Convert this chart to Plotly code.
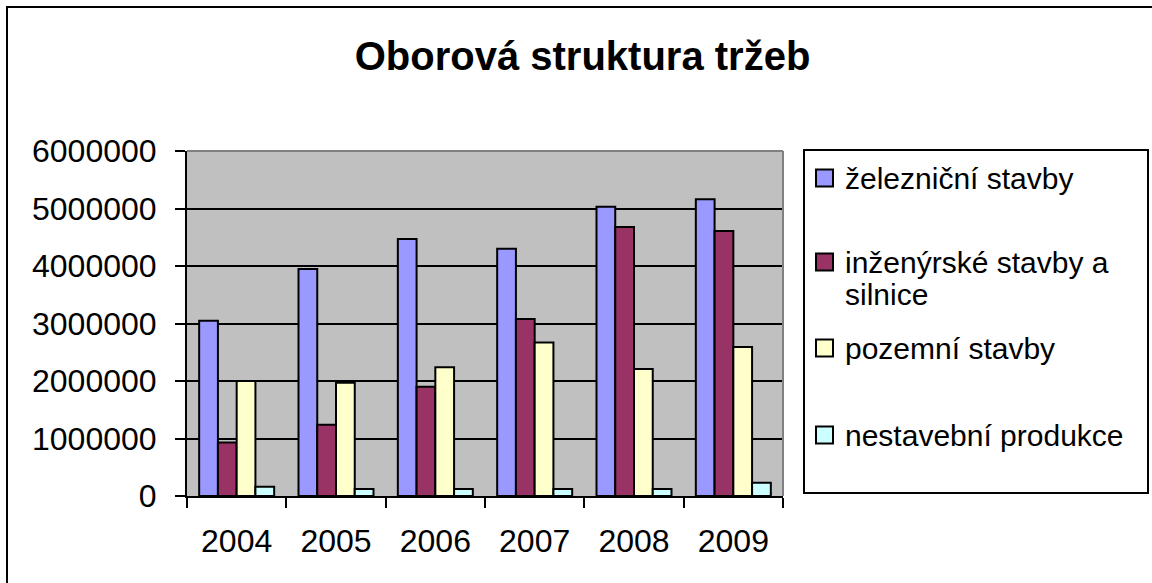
import plotly.graph_objects as go

years = ["2004", "2005", "2006", "2007", "2008", "2009"]
series_names = ["železniční stavby", "inženýrské stavby a silnice", "pozemní stavby", "nestavební produkce"]
zeleznicni = [3050000, 3950000, 4470000, 4300000, 5030000, 5160000]
inzenyrske = [930000, 1240000, 1900000, 3080000, 4680000, 4610000]
pozemni = [2000000, 1970000, 2240000, 2670000, 2210000, 2590000]
nestavebni = [160000, 120000, 120000, 120000, 120000, 230000]
y_ticks = [0, 1000000, 2000000, 3000000, 4000000, 5000000, 6000000]

colors = ["#9999FF", "#993366", "#FFFFCC", "#CCFFFF"]
values = [zeleznicni, inzenyrske, pozemni, nestavebni]
FONT = "Liberation Sans, Arial, sans-serif"

W, H = 1152, 583
L, R, T, B = 187, 783, 151, 496

fig = go.Figure()
for name, vals, col in zip(series_names, values, colors):
    fig.add_trace(go.Bar(x=years, y=vals, name=name, marker=dict(color=col, line=dict(color="black", width=2)),
                         showlegend=False))

def px_x(x):
    return (x - L) / (R - L)

def px_y(y):
    return (B - y) / (B - T)

shapes = []
# outer chart frame (extends beyond the picture at right/bottom)
shapes.append(dict(type="rect", xref="paper", yref="paper", x0=px_x(7), x1=px_x(1170), y0=px_y(600), y1=px_y(7),
                   line=dict(color="black", width=2), layer="above"))
# plot-area top/right gray border
shapes.append(dict(type="line", xref="paper", yref="paper", x0=0, x1=1, y0=1, y1=1, line=dict(color="#808080", width=2)))
shapes.append(dict(type="line", xref="paper", yref="paper", x0=1, x1=1, y0=0, y1=1, line=dict(color="#808080", width=2)))
# legend box
shapes.append(dict(type="rect", xref="paper", yref="paper", x0=px_x(804), x1=px_x(1148), y0=px_y(493), y1=px_y(150),
                   line=dict(color="black", width=2), fillcolor="white"))

annotations = []
legend_rows = [
    (178, ["železniční stavby"]),
    (262, ["inženýrské stavby a", "silnice"]),
    (348, ["pozemní stavby"]),
    (435, ["nestavební produkce"]),
]
for (cy, lines), col in zip(legend_rows, colors):
    shapes.append(dict(type="rect", xref="paper", yref="paper", x0=px_x(816), x1=px_x(833),
                       y0=px_y(cy + 8.5), y1=px_y(cy - 8.5), fillcolor=col, line=dict(color="black", width=2)))
    for i, line in enumerate(lines):
        annotations.append(dict(xref="paper", yref="paper", x=px_x(843), y=px_y(cy + i * 32), text=line,
                                showarrow=False, xanchor="left", yanchor="middle",
                                font=dict(family=FONT, size=30, color="black")))

fig.update_layout(
    width=W, height=H,
    margin=dict(l=L, r=W - R, t=T, b=H - B),
    paper_bgcolor="white",
    plot_bgcolor="#C0C0C0",
    barmode="group", bargap=0.245, bargroupgap=0,
    font=dict(family=FONT, size=32, color="black"),
    title=dict(text="<b>Oborová struktura tržeb</b>", x=582.5 / W, xanchor="center",
               y=1 - 56 / H, yanchor="middle", font=dict(family=FONT, size=40, color="black")),
    xaxis=dict(type="category", tickson="boundaries", ticks="outside", ticklen=10, tickwidth=2, tickcolor="black",
               showline=True, linecolor="black", linewidth=2, showgrid=False, ticklabelstandoff=16,
               tickfont=dict(family=FONT, size=32, color="black")),
    yaxis=dict(range=[0, 6000000], tickvals=y_ticks, tickformat="d", ticks="outside", ticklen=10, tickwidth=2,
               tickcolor="black", showline=True, linecolor="black", linewidth=2, ticklabelstandoff=12,
               showgrid=True, gridcolor="black", gridwidth=1.5, zeroline=False,
               tickfont=dict(family=FONT, size=32, color="black")),
    shapes=shapes,
    annotations=annotations,
    showlegend=False,
)

fig.write_html("out.html", config={"displayModeBar": False},
               post_script="document.body.style.margin='0';document.body.style.overflow='hidden';")
